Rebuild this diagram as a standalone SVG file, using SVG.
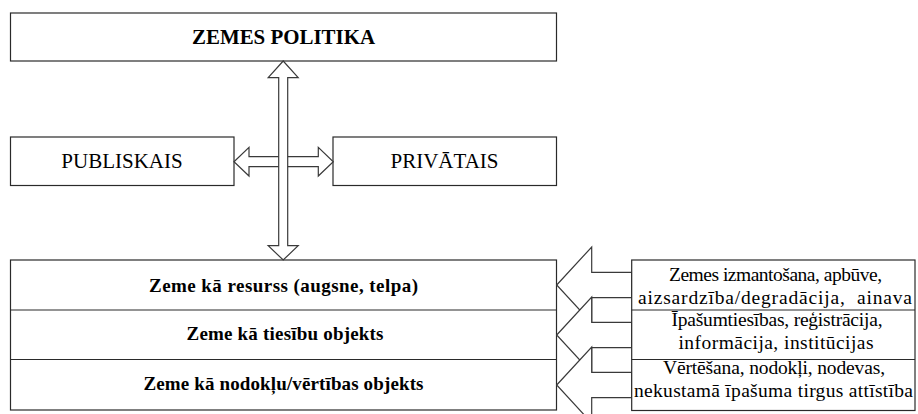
<svg xmlns="http://www.w3.org/2000/svg" width="918" height="414" viewBox="0 0 918 414">
<style>
.box{fill:#fff;stroke:#2a2a2a;stroke-width:1.2}
.arr{fill:#fff;stroke:#3a3a3a;stroke-width:1.2;stroke-linejoin:miter}
.bt{font-family:"Liberation Serif","Times New Roman",serif;font-weight:bold;fill:#000;text-anchor:middle}
.rt{font-family:"Liberation Serif","Times New Roman",serif;fill:#000;text-anchor:middle}
</style>
<rect width="918" height="414" fill="#fff"/>
<g id="zemes-politika">
<rect class="box" x="10.5" y="13" width="546" height="48"/>
<text class="bt" x="283.5" y="43.5" font-size="20" textLength="183" lengthAdjust="spacingAndGlyphs">ZEMES POLITIKA</text>
</g>
<g id="publiskais">
<rect class="box" x="10.5" y="137" width="223.5" height="48.5"/>
<text class="rt" x="122" y="167.5" font-size="21">PUBLISKAIS</text>
</g>
<g id="privatais">
<rect class="box" x="333" y="137" width="223.5" height="48.5"/>
<text class="rt" x="444.5" y="167.5" font-size="21">PRIVĀTAIS</text>
</g>
<g id="zeme-block">
<rect class="box" x="10.5" y="260" width="546" height="150"/>
<line class="box" x1="10.5" y1="310" x2="556.5" y2="310"/>
<line class="box" x1="10.5" y1="359.5" x2="556.5" y2="359.5"/>
<text class="bt" x="283.5" y="291.5" font-size="19" textLength="269" lengthAdjust="spacing">Zeme kā resurss (augsne, telpa)</text>
<text class="bt" x="285" y="340" font-size="19" textLength="197" lengthAdjust="spacing">Zeme kā tiesību objekts</text>
<text class="bt" x="283.5" y="390" font-size="19" textLength="280" lengthAdjust="spacing">Zeme kā nodokļu/vērtības objekts</text>
</g>
<g id="connectors">
<path class="arr" d="M234,161.7 L249,147.3 L249,156.7 L318.3,156.7 L318.3,147.3 L333.3,161.7 L318.3,176 L318.3,166.7 L249,166.7 L249,176 Z"/>
<path class="arr" d="M283.2,61 L298.2,77.7 L287.7,77.7 L287.7,245.7 L298.2,245.7 L283.2,260 L268.2,245.7 L278.7,245.7 L278.7,77.7 L268.2,77.7 Z"/>
<path class="arr" d="M556.7,285 L591.7,247 L591.7,272.3 L631.7,272.3 L631.7,297.7 L591.7,297.7 L591.7,323 Z"/>
<path class="arr" d="M556.7,335 L591.7,297 L591.7,322.3 L631.7,322.3 L631.7,347.7 L591.7,347.7 L591.7,373 Z"/>
<path class="arr" d="M556.7,385 L591.7,347 L591.7,372.3 L631.7,372.3 L631.7,397.7 L591.7,397.7 L591.7,423 Z"/>
</g>
<g id="aspects">
<rect class="box" x="631.7" y="260" width="283.3" height="150.5"/>
<line class="box" x1="631.7" y1="310" x2="915" y2="310"/>
<line class="box" x1="631.7" y1="359.5" x2="915" y2="359.5"/>
<text class="rt" x="775.5" y="280.5" font-size="19.5" textLength="213" lengthAdjust="spacing">Zemes izmantošana, apbūve,</text>
<text class="rt" x="775" y="303.5" font-size="19.5" textLength="274" lengthAdjust="spacing" xml:space="preserve">aizsardzība/degradācija,  ainava</text>
<text class="rt" x="777" y="325.5" font-size="19.5" textLength="211" lengthAdjust="spacing">Īpašumtiesības, reģistrācija,</text>
<text class="rt" x="776" y="348.5" font-size="19.5" textLength="195" lengthAdjust="spacing">informācija, institūcijas</text>
<text class="rt" x="774" y="373.5" font-size="19.5" textLength="222" lengthAdjust="spacing">Vērtēšana, nodokļi, nodevas,</text>
<text class="rt" x="773.5" y="397" font-size="19.5" textLength="279" lengthAdjust="spacing">nekustamā īpašuma tirgus attīstība</text>
</g>
</svg>
